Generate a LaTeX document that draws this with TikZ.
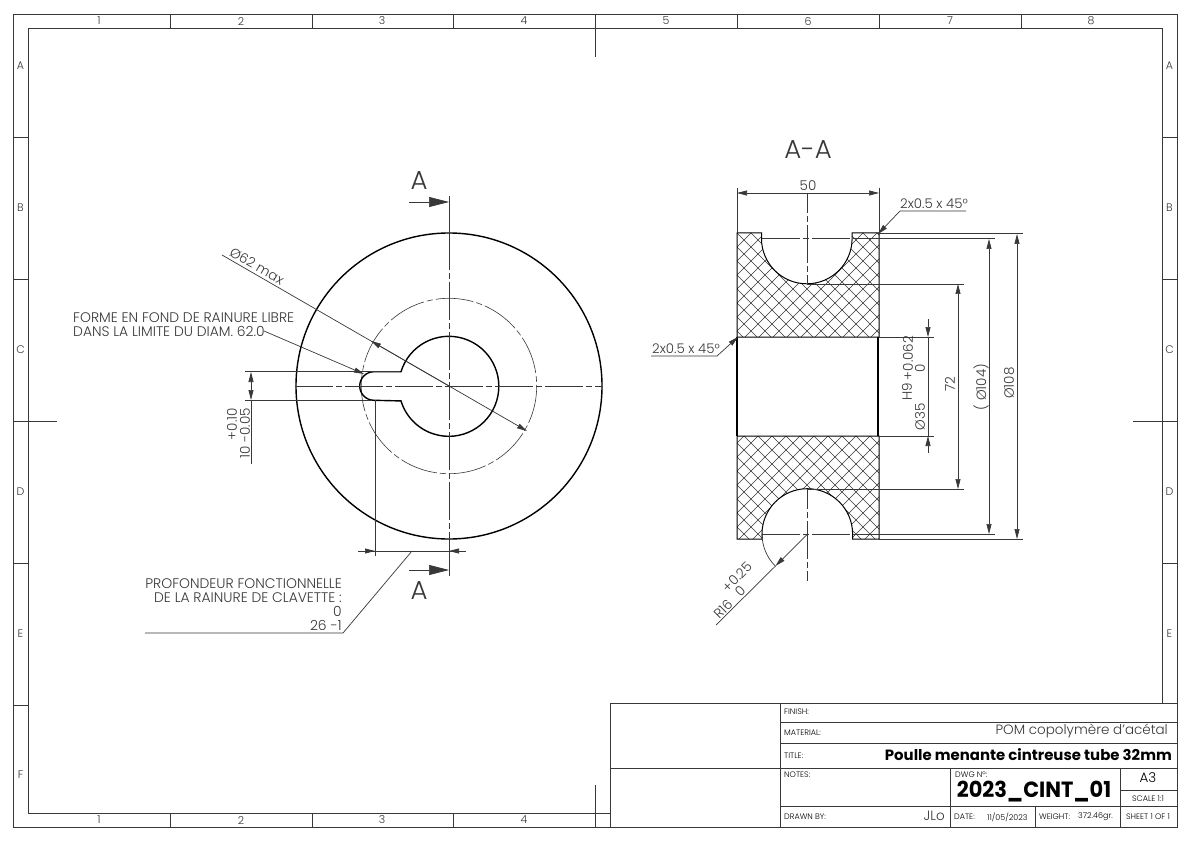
\documentclass[tikz,border=0pt]{standalone}
\usepackage{fontspec}
\setmainfont{Poppins Light}[BoldFont={Poppins Bold}]
\usetikzlibrary{arrows.meta}
\definecolor{ink}{gray}{0.22}
\tikzset{
 x=1pt,y=-1pt,
 thin line/.style={draw=ink,line width=0.7pt},
 frame line/.style={draw=ink,line width=0.8pt},
 part line/.style={draw=black,line width=1.4pt},
 center line/.style={draw=ink,line width=0.6pt,dash pattern=on 38pt off 3pt on 6pt off 3pt},
 arr/.style={-{Triangle[length=10pt,width=5pt]}},
 darr/.style={{Triangle[length=10pt,width=5pt]}-{Triangle[length=10pt,width=5pt]}},
 bigarr/.style={-{Triangle[length=20pt,width=10pt]}},
 txt/.style={text=ink,font=\fontsize{13.5}{14}\selectfont,inner sep=0pt},
 note/.style={txt,font=\fontsize{13.9}{13.9}\selectfont},
 chamfer/.style={txt,font=\fontsize{13.3}{14}\selectfont},
 zone/.style={text=ink,font=\fontsize{11}{12}\selectfont,inner sep=0pt},
 tiny/.style={text=black,font=\fontsize{8}{9}\selectfont,inner sep=0pt,anchor=west},
 big/.style={txt,font=\fontsize{26}{28}\selectfont},
 hatch/.style={draw=ink,line width=0.6pt},
}
\newcommand{\hatchfill}{%
 \foreach \k in {-40,...,40}{
  \draw[hatch] (704+14*\k,200) -- (704+14*\k+400,600);
  \draw[hatch] (370+14*\k+400,200) -- (370+14*\k,600);
 }}
\begin{document}
\begin{tikzpicture}
\useasboundingbox (0,0) rectangle (1191,842);
\fill[white] (0,0) rectangle (1191,842);
% frame
\draw[frame line] (13,14) rectangle (1177,827);
\draw[frame line] (28,28) rectangle (1162,813);
\foreach \x in {170,312,453,737,879,1021}{\draw[frame line] (\x,14)--(\x,28);}
\draw[frame line] (595,14)--(595,57);
\foreach \x in {170,312,453}{\draw[frame line] (\x,813)--(\x,827);}
\draw[frame line] (595,785)--(595,827);
\foreach \y in {137,279,563,705}{\draw[frame line] (13,\y)--(28,\y);\draw[frame line] (1162,\y)--(1177,\y);}
\draw[frame line] (13,421)--(57,421);
\draw[frame line] (1133,421)--(1177,421);
\foreach \n/\x in {1/99,2/241,3/382,4/524,5/666,6/808,7/950,8/1091}{\node[zone] at (\x,21) {\n};}
\foreach \n/\x in {1/99,2/241,3/382,4/524}{\node[zone] at (\x,820) {\n};}
\foreach \n/\y in {A/66,B/208,C/350,D/492,E/634,F/775}{\node[zone] at (20.5,\y) {\n};\node[zone] at (1169.5,\y) {\n};}
% title block
\fill[white] (610,703) rectangle (1177,827);
\draw[frame line] (610,703) rectangle (1177,827);
\draw[frame line] (780,703)--(780,827);
\draw[frame line] (780,722)--(1177,722);
\draw[frame line] (780,743)--(1177,743);
\draw[frame line] (610,768)--(1177,768);
\draw[frame line] (780,806)--(1177,806);
\draw[frame line] (950,768)--(950,827);
\draw[frame line] (1035,806)--(1035,827);
\draw[frame line] (1120,768)--(1120,827);
\draw[frame line] (1120,790)--(1177,790);
\node[tiny] at (784,712) {FINISH:};
\node[tiny] at (784,733) {MATERIAL:};
\node[tiny] at (784,756) {TITLE:};
\node[tiny] at (784,775) {NOTES:};
\node[tiny] at (784,817) {DRAWN BY:};
\node[tiny] at (955,775) {DWG Nº:};
\node[tiny] at (954,817) {DATE:};
\node[tiny] at (987,817) {11/05/2023};
\node[tiny] at (1039,817) {WEIGHT:};
\node[tiny] at (1078,817) {372.46gr.};
\node[tiny,anchor=center] at (1148,799) {SCALE 1:1};
\node[tiny,anchor=center] at (1148,817) {SHEET 1 OF 1};
\node[txt,anchor=east] at (1168,731) {POM copolymère d'acétal};
\node[txt,anchor=east,text=black,font=\fontsize{14.9}{15}\selectfont\bfseries] at (1172,755) {Poulle menante cintreuse tube 32mm};
\node[txt,anchor=center,text=black,font=\fontsize{22}{24}\selectfont\bfseries\addfontfeature{FakeStretch=0.95}] at (1034,792) {2023\_CINT\_01};
\node[txt,anchor=center,text=black] at (1148,778) {A3};
\node[txt,anchor=east] at (945,816) {JLo};
% left view
\draw[part line] (449,386) circle[radius=153];
\draw[center line] (449,386) circle[radius=87.7];
\draw[part line] (401,371.7) arc[start angle=197,end angle=523,radius=50] -- (374,400.3) arc[start angle=90,end angle=270,radius=14.3] -- cycle;
\draw[center line] (295,386) -- (603,386);
\draw[center line] (449,232) -- (449,539);
% section marks
\draw[thin line] (449,196) -- (449,232);
\draw[thin line] (449,539) -- (449,576);
\draw[thin line,bigarr] (409,202) -- (449,202);
\draw[thin line,bigarr] (409,570) -- (449,570);
\node[big] at (419,181) {A};
\node[big] at (419,591) {A};
% dia 62
\draw[thin line,arr] (222,255) -- (527,431);
\draw[thin line,arr] (449,386) -- (371,341);
\node[txt,rotate=-30] at (257,266) {Ø62 max};
% note
\node[note,anchor=north west,align=left] (n1) at (73,312.5) {FORME EN FOND DE RAINURE LIBRE\\DANS LA LIMITE DU DIAM. 62.0};
\draw[thin line,arr] (264,331) -- (364,374);
% dim 10
\draw[thin line] (245,371.5) -- (400,371.5);
\draw[thin line] (245,400.5) -- (372,400.5);
\draw[thin line,darr] (251,372) -- (251,400);
\draw[thin line] (251,400) -- (251,464);
\node[txt,rotate=90,anchor=east] at (232,408) {+0.10};
\node[txt,rotate=90,anchor=east] at (245,408) {10 -0.05};
% dim 26
\draw[thin line] (375,400) -- (375,556);
\draw[thin line] (358,551) -- (465,551);
\draw[thin line,arr] (358,551) -- (375,551);
\draw[thin line,arr] (466,551) -- (449,551);
\draw[thin line] (412,551) -- (343,633) -- (145,633);
\node[note,anchor=north east,align=right] (n2) at (342,578) {PROFONDEUR FONCTIONNELLE\\[0.6pt]DE LA RAINURE DE CLAVETTE :\\[0.4pt]0\\26 -1};
% section view
\begin{scope}
\clip (737,233) -- (761.5,233) -- (761.5,238.5) arc[start angle=180,end angle=0,radius=45.3] -- (852.1,233) -- (879,233) -- (879,337) -- (737,337) -- cycle;
\hatchfill
\end{scope}
\begin{scope}
\clip (737,539) -- (762,539) -- (762,534) arc[start angle=180,end angle=360,radius=45.3] -- (852.6,539) -- (879,539) -- (879,436) -- (737,436) -- cycle;
\hatchfill
\end{scope}
\draw[draw=black,line width=1pt] (737,337) -- (737,233) -- (761.5,233) -- (761.5,238.5) arc[start angle=180,end angle=0,radius=45.3] -- (852.1,233) -- (879,233) -- (879,337) -- cycle;
\draw[draw=black,line width=1pt] (737,436) -- (737,539) -- (762,539) -- (762,534) arc[start angle=180,end angle=360,radius=45.3] -- (852.6,539) -- (879,539) -- (879,436) -- cycle;
\draw[draw=black,line width=1.4pt] (737,337)--(737,436);
\draw[draw=black,line width=1.8pt] (878,337)--(878,436);
\draw[center line,dash phase=18pt] (807.5,193) -- (807.5,284);
\draw[center line,dash phase=18pt] (807.5,489) -- (807.5,581);
\draw[center line] (762,238.5) -- (853,238.5);
\draw[center line] (762,534) -- (853,534);
\node[big] at (808,150) {A-A};
% 50
\draw[thin line] (737,188) -- (737,233);
\draw[thin line] (879,188) -- (879,233);
\draw[thin line,darr] (737,193) -- (879,193);
\node[txt] at (808,186) {50};
% chamfers
\draw[thin line,arr] (966,211) -- (900,211) -- (878,234);
\node[chamfer,anchor=south west] at (900,208.5) {2x0.5 x 45°};
\draw[thin line,arr] (651,356) -- (717,356) -- (738,337);
\node[chamfer,anchor=south west] at (652,353.5) {2x0.5 x 45°};
% right dims
\draw[thin line] (879,233) -- (1023,233);
\draw[thin line] (853,238.5) -- (995,238.5);
\draw[thin line] (807,284) -- (964,284);
\draw[thin line] (879,337) -- (934,337);
\draw[thin line] (879,436) -- (934,436);
\draw[thin line] (807,489) -- (964,489);
\draw[thin line] (853,534) -- (995,534);
\draw[thin line] (879,539) -- (1023,539);
\draw[thin line,darr] (1017,234) -- (1017,539);
\draw[thin line,darr] (989,239) -- (989,534);
\draw[thin line,darr] (958,284) -- (958,489);
\draw[thin line,arr] (928,319) -- (928,337);
\draw[thin line] (928,337) -- (928,436);
\draw[thin line,arr] (928,453) -- (928,436);
\node[txt,rotate=90] at (1009,383) {Ø108};
\node[txt,rotate=90] at (981,387) {( Ø104)};
\node[txt,rotate=90] at (950,384) {72};
\node[txt,rotate=90] at (907,392) {H9};
\node[txt,rotate=90] at (908,358) {+0.062};
\node[txt,rotate=90] at (920,368) {0};
\node[txt,rotate=90] at (920,417) {Ø35};
% R16
\draw[thin line] (762,534) arc[start angle=180,end angle=135,radius=45.3];
\draw[thin line,arr] (807.5,534) -- (775.5,566);
\draw[thin line] (775.5,566) -- (716,625);
\node[txt,rotate=45] at (737,577) {+0.25};
\node[txt,rotate=45] at (723,609) {R16};
\node[txt,rotate=45] at (740,591) {0};
\end{tikzpicture}
\end{document}
